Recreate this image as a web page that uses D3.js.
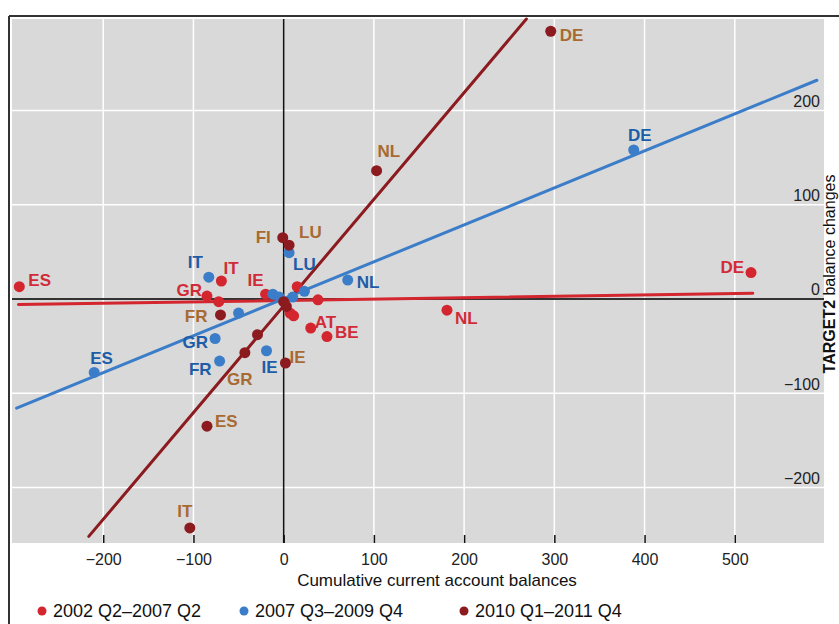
<!DOCTYPE html>
<html>
<head>
<meta charset="utf-8">
<script src="https://cdn.jsdelivr.net/npm/d3@7"></script>
<style>
  html, body { margin: 0; padding: 0; background: #fff; }
  svg { display: block; font-family: "Liberation Sans", Arial, Helvetica, sans-serif; }
</style>
</head>
<body>
<svg id="chart" width="839" height="624"></svg>
<script>
// Period names shown in the legend
const seriesNames = ["2002 Q2\u20132007 Q2", "2007 Q3\u20132009 Q4", "2010 Q1\u20132011 Q4"];

// Axis ticks
const xTicks = [-200, -100, 0, 100, 200, 300, 400, 500];
const yTicks = [-200, -100, 0, 100, 200];

// Cumulative current account balance (x) vs TARGET2 balance change (y), by country
const pre2007 = [
  { c: "ES", x: -293, y: 13 },
  { c: "IT", x: -69, y: 19 },
  { c: "GR", x: -85, y: 3 },
  { c: "", x: -72, y: -3 },
  { c: "IE", x: -20, y: 5 },
  { c: "", x: 15, y: 13 },
  { c: "", x: 38, y: -1 },
  { c: "", x: 7, y: -15 },
  { c: "", x: 11, y: -18 },
  { c: "AT", x: 30, y: -31 },
  { c: "BE", x: 48, y: -40 },
  { c: "NL", x: 181, y: -12 },
  { c: "DE", x: 518, y: 28 }
];
const crisis = [
  { c: "DE", x: 388, y: 158 },
  { c: "NL", x: 71, y: 20 },
  { c: "LU", x: 6, y: 49 },
  { c: "IT", x: -83, y: 23 },
  { c: "GR", x: -76, y: -42 },
  { c: "FR", x: -71, y: -66 },
  { c: "ES", x: -210, y: -78 },
  { c: "IE", x: -19, y: -55 },
  { c: "", x: -50, y: -15 },
  { c: "", x: -12, y: 5 },
  { c: "", x: -5, y: 2 },
  { c: "", x: 10, y: 2 },
  { c: "", x: 23, y: 8 }
];
const post2010 = [
  { c: "DE", x: 296, y: 284 },
  { c: "NL", x: 103, y: 136 },
  { c: "FI", x: -1, y: 65 },
  { c: "LU", x: 6, y: 57 },
  { c: "FR", x: -70, y: -17 },
  { c: "", x: -29, y: -38 },
  { c: "GR", x: -43, y: -57 },
  { c: "ES", x: -85, y: -135 },
  { c: "IT", x: -104, y: -243 },
  { c: "IE", x: 2, y: -68 },
  { c: "", x: 0, y: -3 },
  { c: "", x: 3, y: -8 }
];

// Fitted trend lines, as end points in data units
const fitPre2007 = [[-294, -6], [520, 6]];
const fitCrisis = [[-296, -116], [591, 232]];
const fitPost2010 = [[-216, -252], [269, 297]];

// ---- layout and styling ----
const plot = { left: 12, right: 824, top: 19, bottom: 543 };
const colors = {
  pre: { dot: "#d3262f", label: "#d12b38" },
  crisis: { dot: "#3b7dc8", label: "#1d5da7" },
  post: { dot: "#8c1b20", label: "#a86a31" }
};
// label placement relative to each dot: [dx, dy, anchor]
const labelPlace = {
  pre: { ES: [9, -6, "start"], IT: [2, -13, "start"], GR: [-5, -6, "end"], IE: [-2, -14, "end"],
         AT: [4, -6, "start"], BE: [8, -4, "start"], NL: [8, 8, "start"], DE: [-7, -5, "end"] },
  crisis: { DE: [6, -15, "middle"], NL: [9, 2, "start"], LU: [4, 12, "start"], IT: [-6, -15, "end"],
            GR: [-7, 4, "end"], FR: [-8, 8, "end"], ES: [-4, -14, "start"], IE: [3, 17, "middle"] },
  post: { DE: [9, 4, "start"], NL: [1, -19, "start"], FI: [-12, 0, "end"], LU: [10, -13, "start"],
          FR: [-13, 2, "end"], GR: [-5, 27, "middle"], ES: [8, -5, "start"], IT: [-5, -16, "middle"],
          IE: [4, -5, "start"] }
};

const svg = d3.select("#chart");

const x = d3.scaleLinear().domain([-300, 600]).range([13, 825]);
const y = d3.scaleLinear().domain([-259, 297]).range([plot.bottom, plot.top]);

// outer frame (left and top edges)
svg.append("line").attr("x1", 9).attr("x2", 9).attr("y1", 16).attr("y2", 624)
  .attr("stroke", "#333").attr("stroke-width", 2);
svg.append("line").attr("x1", 9).attr("x2", 839).attr("y1", 16).attr("y2", 16)
  .attr("stroke", "#333").attr("stroke-width", 2);

// plot background
svg.append("rect")
  .attr("x", plot.left).attr("y", plot.top)
  .attr("width", plot.right - plot.left).attr("height", plot.bottom - plot.top)
  .attr("fill", "#d9d9d9");

// grid
const grid = svg.append("g").attr("stroke", "#fff").attr("stroke-width", 1.5);
grid.selectAll(".gx").data(xTicks.filter(d => d !== 0)).join("line")
  .attr("x1", d => x(d)).attr("x2", d => x(d))
  .attr("y1", plot.top).attr("y2", plot.bottom);
grid.selectAll(".gy").data(yTicks.filter(d => d !== 0)).join("line")
  .attr("x1", plot.left).attr("x2", plot.right)
  .attr("y1", d => y(d)).attr("y2", d => y(d));

// zero axes
svg.append("line").attr("x1", x(0)).attr("x2", x(0)).attr("y1", plot.top).attr("y2", plot.bottom)
  .attr("stroke", "#111").attr("stroke-width", 1.5);
svg.append("line").attr("x1", plot.left).attr("x2", plot.right).attr("y1", y(0)).attr("y2", y(0))
  .attr("stroke", "#333").attr("stroke-width", 2);

// x axis: short ticks inside the bottom of the plot, labels below
const xAxis = d3.axisBottom(x).tickValues(xTicks).tickSizeInner(-8).tickSizeOuter(0).tickPadding(11)
  .tickFormat(d => d < 0 ? "\u2212" + Math.abs(d) : String(d));
const gx = svg.append("g").attr("transform", `translate(0,${plot.bottom})`).call(xAxis);
gx.select(".domain").remove();
gx.selectAll(".tick line").attr("stroke", "#111").attr("stroke-width", 1.5);
gx.selectAll(".tick text").attr("fill", "#222").attr("font-size", 16)
  .attr("font-family", "Liberation Sans, Arial, sans-serif");

// y axis labels sit inside the plot, just above their grid lines
const yAxis = d3.axisRight(y).tickValues(yTicks).tickSize(0).tickPadding(0)
  .tickFormat(d => d < 0 ? "\u2212" + Math.abs(d) : String(d));
const gy = svg.append("g").attr("transform", `translate(${plot.right - 4},0)`).call(yAxis);
gy.select(".domain").remove();
gy.selectAll(".tick text").attr("fill", "#222").attr("font-size", 16)
  .attr("font-family", "Liberation Sans, Arial, sans-serif")
  .attr("text-anchor", "end").attr("dy", "-4").attr("dominant-baseline", "auto");

// trend lines
const line = d3.line().x(d => x(d[0])).y(d => y(d[1]));
[[fitPre2007, colors.pre.dot], [fitCrisis, colors.crisis.dot], [fitPost2010, colors.post.dot]]
  .forEach(([pts, col]) => {
    svg.append("path").datum(pts).attr("d", line)
      .attr("fill", "none").attr("stroke", col).attr("stroke-width", 3).attr("stroke-linecap", "round");
  });

// dots and country labels
function drawSeries(data, key) {
  const col = colors[key];
  const g = svg.append("g");
  g.selectAll("circle").data(data).join("circle")
    .attr("cx", d => x(d.x)).attr("cy", d => y(d.y)).attr("r", 5.5)
    .attr("fill", col.dot);
  g.selectAll("text").data(data.filter(d => d.c)).join("text")
    .attr("x", d => x(d.x) + labelPlace[key][d.c][0])
    .attr("y", d => y(d.y) + labelPlace[key][d.c][1])
    .attr("text-anchor", d => labelPlace[key][d.c][2])
    .attr("dominant-baseline", "central")
    .attr("font-size", 17).attr("font-weight", "bold")
    .attr("fill", col.label)
    .text(d => d.c);
}
drawSeries(pre2007, "pre");
drawSeries(crisis, "crisis");
drawSeries(post2010, "post");

// axis titles
svg.append("text").attr("x", 437).attr("y", 586).attr("text-anchor", "middle")
  .attr("font-size", 17).attr("fill", "#111").text("Cumulative current account balances");

const yt = svg.append("text").attr("transform", "translate(835,274) rotate(-90)")
  .attr("text-anchor", "middle").attr("font-size", 16).attr("fill", "#111");
yt.append("tspan").attr("font-weight", "bold").text("TARGET2");
yt.append("tspan").text(" balance changes");

// legend
const legendX = [42, 244, 464];
const legendCols = [colors.pre.dot, colors.crisis.dot, colors.post.dot];
const lg = svg.append("g");
seriesNames.forEach((name, i) => {
  lg.append("circle").attr("cx", legendX[i]).attr("cy", 611).attr("r", 4.5).attr("fill", legendCols[i]);
  lg.append("text").attr("x", legendX[i] + 11).attr("y", 617).attr("font-size", 18)
    .attr("fill", "#111").text(name);
});
</script>
</body>
</html>
